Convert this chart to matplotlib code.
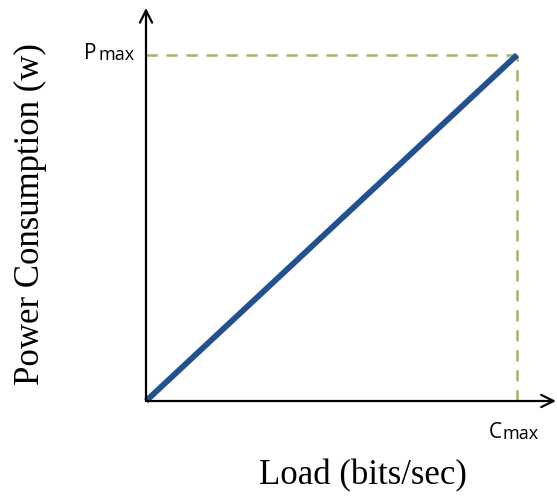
import matplotlib.pyplot as plt

# data: linear power model, normalised to capacity
load = [0.0, 1.0]
power = [0.0, 1.0]
c_max = 1.0
p_max = 1.0

fig = plt.figure(figsize=(5.57, 5.0), dpi=100)
ax = fig.add_axes([146 / 557, 99 / 500, 371 / 557, 346 / 500])
ax.set_xlim(0, c_max)
ax.set_ylim(0, p_max)
ax.axis('off')

# guide lines to the max point
green = '#9bbb59'
ax.plot([0, c_max], [p_max, p_max], color=green, lw=1.8, dashes=(4.5, 3.5), clip_on=False)
ax.plot([c_max, c_max], [0, p_max], color=green, lw=1.8, dashes=(4.5, 3.5), clip_on=False)

ax.plot(load, power, color='#23508f', lw=4.2, solid_capstyle='butt', clip_on=False)

# axes with open arrow heads
arrow = dict(arrowstyle='->', color='black', lw=1.6, mutation_scale=22, shrinkA=0, shrinkB=0)
ax.annotate('', xy=(1.105, 0), xytext=(0, 0), arrowprops=arrow, annotation_clip=False)
ax.annotate('', xy=(0, 1.136), xytext=(0, 0), arrowprops=arrow, annotation_clip=False)

sans = 'Open Sans'
lab = dict(textcoords='offset pixels', ha='right', va='bottom', family=sans, annotation_clip=False)
p_txt = ax.annotate('P', xy=(0, p_max), xytext=(-49, -9), fontsize=15, **lab)
ax.annotate('max', xy=(1, 0), xycoords=p_txt, xytext=(1, 0), textcoords='offset pixels',
            ha='left', va='bottom', fontsize=13, family=sans)
c_txt = ax.annotate('C', xy=(c_max, 0), xytext=(-15, -42), fontsize=15, **lab)
ax.annotate('max', xy=(1, 0), xycoords=c_txt, xytext=(1, 0), textcoords='offset pixels',
            ha='left', va='bottom', fontsize=13, family=sans)

fig.text(30 / 557, 1 - 214 / 500, 'Power Consumption (w)', rotation=90, ha='center', va='center',
         fontsize=25, family='Liberation Serif')
fig.text(363 / 557, 1 - 476 / 500, 'Load (bits/sec)', ha='center', va='center',
         fontsize=25, family='Liberation Serif')

fig.savefig('out.png', dpi=100)
